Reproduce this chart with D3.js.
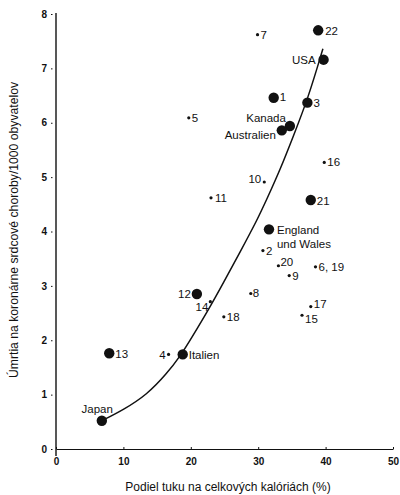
<!DOCTYPE html>
<html>
<head>
<meta charset="utf-8">
<script src="https://cdn.jsdelivr.net/npm/d3@7/dist/d3.min.js"></script>
<style>
  html, body { margin: 0; padding: 0; background: #fff; }
  svg { display: block; }
  text { font-family: "Liberation Sans", Arial, sans-serif; fill: #111; }
</style>
</head>
<body>
<svg id="chart" width="400" height="495"></svg>
<script>
// Countries / study populations
const names = ["22", "USA", "7", "1", "3", "5", "Kanada", "Australien", "16", "10", "21", "11",
  "England\nund Wales", "2", "20", "6, 19", "9", "8", "12", "14", "17", "18", "15", "13", "4", "Italien", "Japan"];
// Fat share of total calories (%)
const fatShare = [38.9, 39.7, 29.9, 32.3, 37.3, 19.7, 34.7, 33.5, 39.8, 30.9, 37.8, 23.0,
  31.6, 30.7, 33.0, 38.5, 34.6, 28.9, 20.9, 22.9, 37.8, 24.9, 36.5, 7.9, 16.7, 18.8, 6.8];
// Coronary deaths per 1000 inhabitants
const deaths = [7.70, 7.16, 7.62, 6.46, 6.37, 6.09, 5.94, 5.86, 5.27, 4.91, 4.58, 4.62,
  4.04, 3.65, 3.37, 3.35, 3.19, 2.86, 2.85, 2.71, 2.62, 2.43, 2.46, 1.76, 1.74, 1.74, 0.52];
// Highlighted (large marker) populations
const highlighted = ["22", "USA", "1", "3", "Kanada", "Australien", "21", "England\nund Wales",
  "12", "13", "Italien", "Japan"];
// Trend curve traced through the cloud
const trendFat = [6.8, 10, 13.5, 16.4, 18.5, 20.0, 22.8, 24.8, 27.3, 29.8, 31.3, 33.3, 35.2, 37.4, 39.6];
const trendDeaths = [0.52, 0.72, 1.0, 1.38, 1.72, 2.02, 2.6, 3.05, 3.62, 4.2, 4.6, 5.15, 5.75, 6.45, 7.36];
// Axis ticks
const xTicks = [0, 10, 20, 30, 40, 50];
const yTicks = [0, 1, 2, 3, 4, 5, 6, 7, 8];

// Label placement: [dx, dy, anchor]
const labelPos = {
  "22": [7, 4.5, "start"], "USA": [-8, 4, "end"], "7": [3, 4, "start"], "1": [6, 3, "start"],
  "3": [6, 4, "start"], "5": [3, 4, "start"], "Kanada": [-4, -4, "end"], "Australien": [-6, 9, "end"],
  "16": [3, 4, "start"], "10": [-3, 1, "end"], "21": [6, 5, "start"], "11": [4, 4, "start"],
  "England\nund Wales": [8, 4.5, "start"], "2": [3, 4.5, "start"], "20": [2, 0, "start"],
  "6, 19": [3, 4, "start"], "9": [3, 4, "start"], "8": [2, 4, "start"], "12": [-6, 4, "end"],
  "14": [-2, 9, "end"], "17": [3, 1, "start"], "18": [3, 4, "start"], "15": [3, 8, "start"],
  "13": [6, 4.5, "start"], "4": [-3, 4.5, "end"], "Italien": [6, 4.5, "start"], "Japan": [11, -8, "end"]
};

const ink = "#111";
const svg = d3.select("#chart");
const x = d3.scaleLinear().domain([0, 50]).range([56, 393]);
const y = d3.scaleLinear().domain([0, 8]).range([449, 14]);

// X axis
const xAxis = svg.append("g").attr("transform", `translate(0,${y(0)})`)
  .call(d3.axisBottom(x).tickValues(xTicks).tickSize(0).tickPadding(9));
xAxis.select(".domain").attr("stroke", ink).attr("stroke-width", 1.2);
xAxis.selectAll(".tick text").attr("font-size", 10).attr("font-weight", "bold").attr("fill", ink)
  .style("font-family", "'Liberation Sans', Arial, sans-serif");
xAxis.selectAll(".tick").append("line").attr("y1", -2).attr("y2", 0).attr("stroke", ink);

// Y axis
const yAxis = svg.append("g").attr("transform", `translate(${x(0)},0)`)
  .call(d3.axisLeft(y).tickValues(yTicks).tickSize(0).tickPadding(9));
yAxis.select(".domain").remove();
svg.append("line").attr("x1", x(0)).attr("x2", x(0)).attr("y1", y(8) - 1).attr("y2", y(0) + 7)
  .attr("stroke", ink).attr("stroke-width", 1.4);
yAxis.selectAll(".tick text").attr("font-size", 10).attr("font-weight", "bold").attr("fill", ink)
  .style("font-family", "'Liberation Sans', Arial, sans-serif");
yAxis.selectAll(".tick").append("line").attr("x1", -5).attr("x2", -3.5).attr("stroke", ink);

// Axis titles
svg.append("text").attr("x", 228).attr("y", 491).attr("text-anchor", "middle").attr("fill", ink)
  .attr("font-size", 12).text("Podiel tuku na celkových kalóriách (%)");
svg.append("text").attr("transform", `translate(18,${230}) rotate(-90)`).attr("text-anchor", "middle")
  .attr("fill", ink).attr("font-size", 12.2).text("Úmrtia na koronárne srdcové choroby/1000 obyvatelov");

// Trend curve
const trend = trendFat.map((f, i) => [f, trendDeaths[i]]);
svg.append("path").datum(trend)
  .attr("fill", "none").attr("stroke", ink).attr("stroke-width", 1.5)
  .attr("d", d3.line().x(d => x(d[0])).y(d => y(d[1])).curve(d3.curveBasis));

// Points
const points = names.map((n, i) => ({ name: n, fat: fatShare[i], deaths: deaths[i], big: highlighted.includes(n) }));
const g = svg.append("g");
g.selectAll("circle").data(points).join("circle")
  .attr("cx", d => x(d.fat)).attr("cy", d => y(d.deaths))
  .attr("r", d => d.big ? 5.2 : 1.6).attr("fill", ink);

// Point labels
const labels = g.selectAll("text.lbl").data(points).join("text").attr("class", "lbl")
  .attr("font-size", 11.5).attr("fill", ink)
  .attr("text-anchor", d => labelPos[d.name][2])
  .attr("x", d => x(d.fat) + labelPos[d.name][0])
  .attr("y", d => y(d.deaths) + labelPos[d.name][1]);
labels.each(function(d) {
  const lines = d.name.split("\n");
  const t = d3.select(this);
  lines.forEach((ln, i) => {
    t.append("tspan").attr("x", x(d.fat) + labelPos[d.name][0]).attr("dy", i === 0 ? 0 : 14)
      .attr("fill", ink).text(ln);
  });
});
</script>
</body>
</html>
